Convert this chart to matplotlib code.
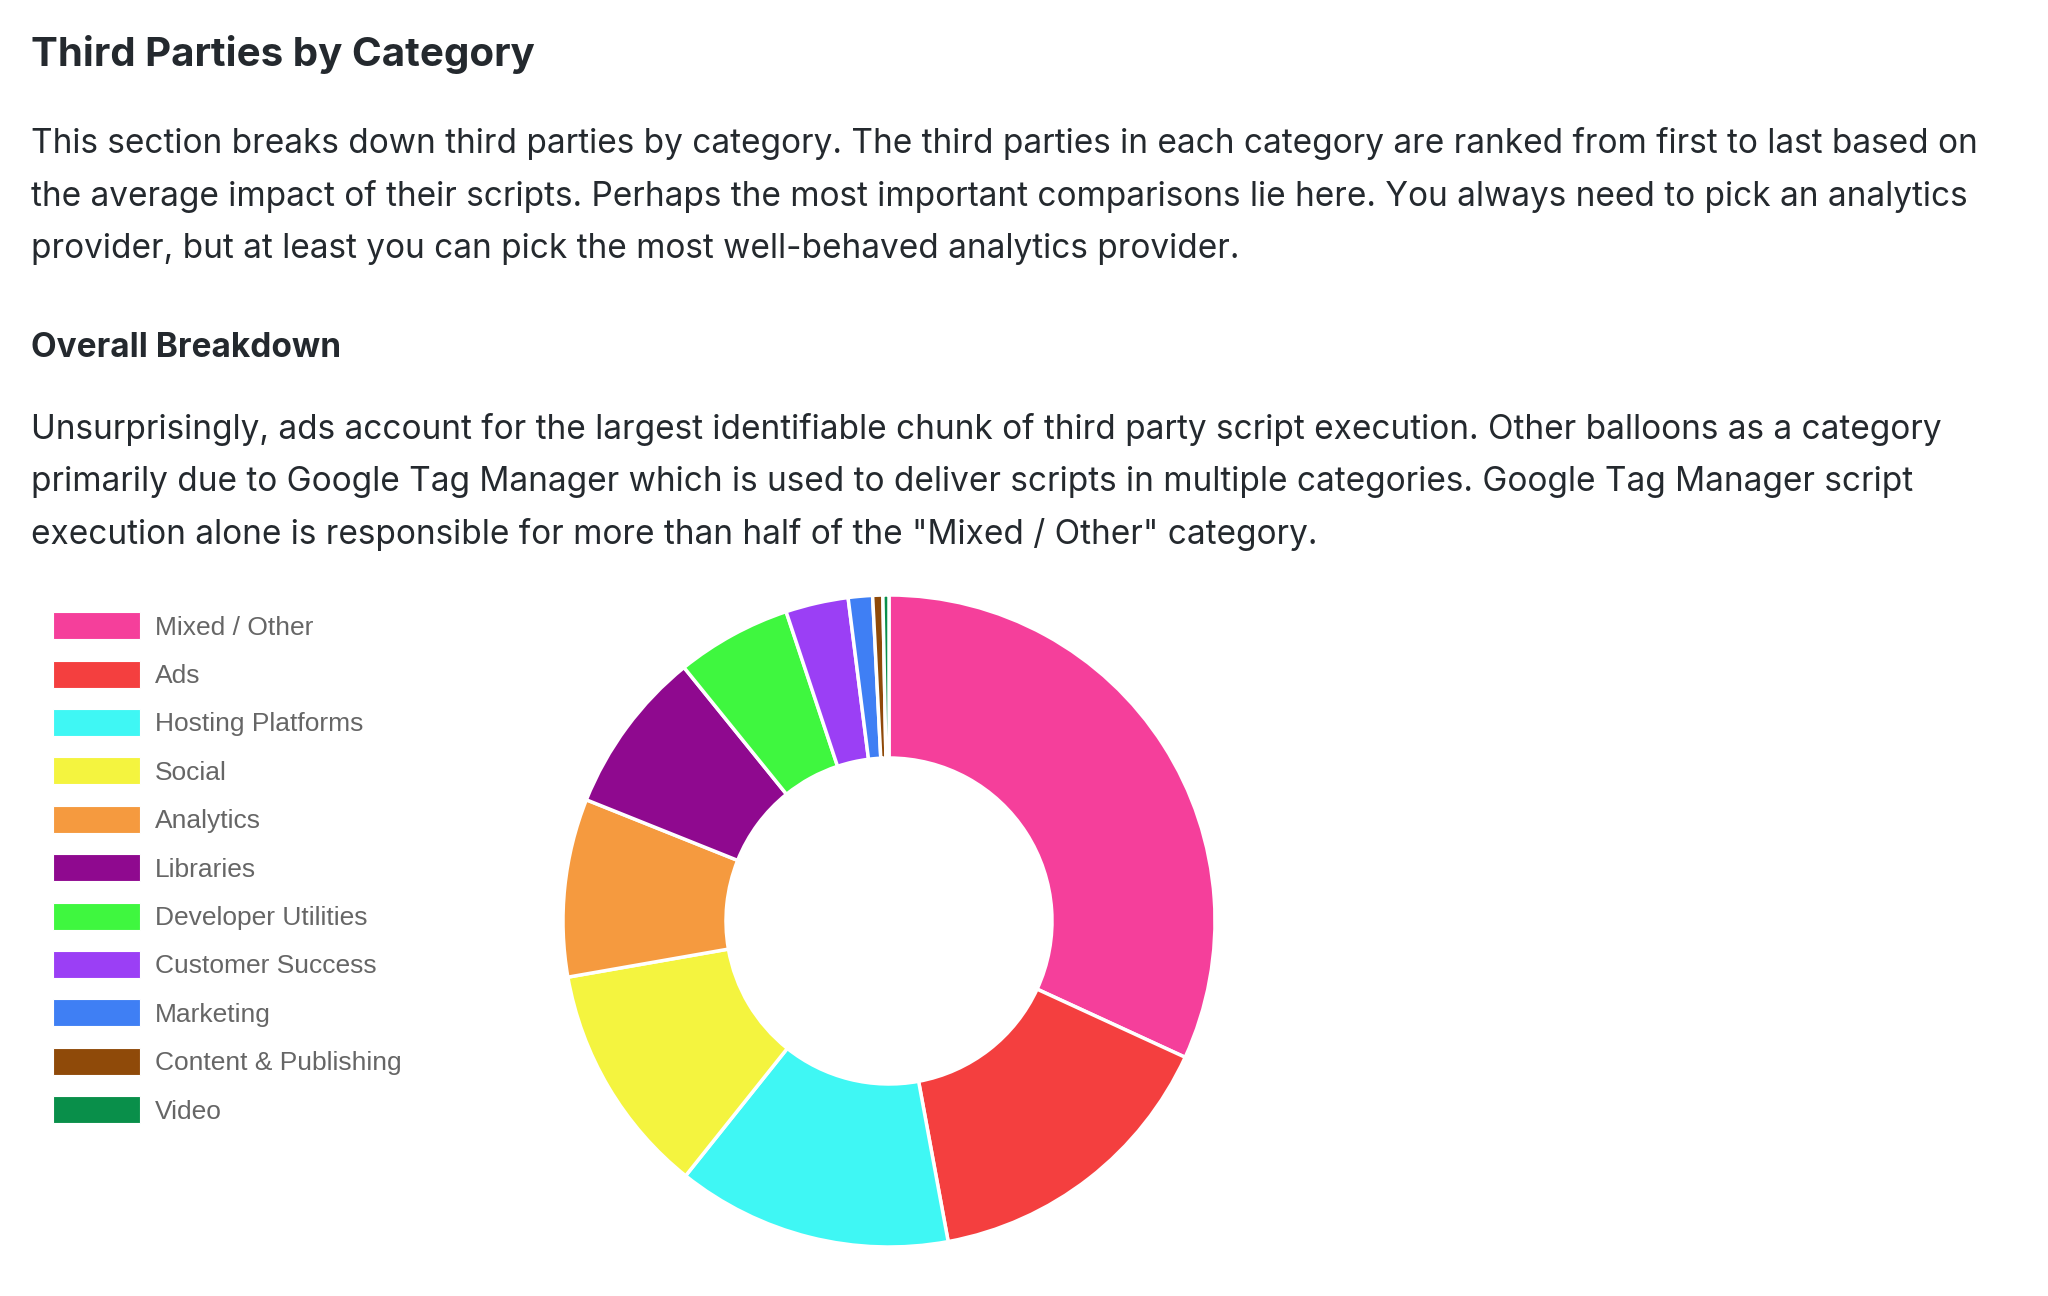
import matplotlib.pyplot as plt
from matplotlib.patches import Patch

W, H = 2048, 1296

categories = [
    "Mixed / Other", "Ads", "Hosting Platforms", "Social", "Analytics",
    "Libraries", "Developer Utilities", "Customer Success", "Marketing",
    "Content & Publishing", "Video",
]
shares = [31.8, 15.2, 13.6, 11.5, 8.8, 8.1, 5.7, 3.1, 1.2, 0.5, 0.3]
colors = [
    "#f53f9b", "#f43f3f", "#3ff7f4", "#f4f43f", "#f59a3f",
    "#8f098f", "#3ff73f", "#9b3ff5", "#3f7ff4", "#8f4a09", "#098f4a",
]

page_title = "Third Parties by Category"
intro_lines = [
    "This section breaks down third parties by category. The third parties in each category are ranked from first to last based on",
    "the average impact of their scripts. Perhaps the most important comparisons lie here. You always need to pick an analytics",
    "provider, but at least you can pick the most well-behaved analytics provider.",
]
sub_title = "Overall Breakdown"
breakdown_lines = [
    "Unsurprisingly, ads account for the largest identifiable chunk of third party script execution. Other balloons as a category",
    "primarily due to Google Tag Manager which is used to deliver scripts in multiple categories. Google Tag Manager script",
    "execution alone is responsible for more than half of the \"Mixed / Other\" category.",
]

TEXT_COLOR = "#24292e"
BODY_FONT = ["Inter", "DejaVu Sans"]
BODY_SIZE = 24


def px(x, y):
    return x / W, 1 - y / H


fig = plt.figure(figsize=(W / 100, H / 100), dpi=100)
fig.patch.set_facecolor("white")

fig.text(*px(31, 55), page_title, fontsize=29, fontweight="bold",
         color=TEXT_COLOR, family=BODY_FONT, va="center", ha="left")
for i, line in enumerate(intro_lines):
    fig.text(*px(31, 144 + i * 52.3), line, fontsize=BODY_SIZE,
             color=TEXT_COLOR, family=BODY_FONT, va="center", ha="left")
fig.text(*px(31, 348), sub_title, fontsize=BODY_SIZE, fontweight="bold",
         color=TEXT_COLOR, family=BODY_FONT, va="center", ha="left")
for i, line in enumerate(breakdown_lines):
    fig.text(*px(31, 430 + i * 52.3), line, fontsize=BODY_SIZE,
             color=TEXT_COLOR, family=BODY_FONT, va="center", ha="left")

# donut
cx, cy, r = 889, 921, 326
ax = fig.add_axes([(cx - r) / W, 1 - (cy + r) / H, 2 * r / W, 2 * r / H])
ax.pie(
    shares,
    colors=colors,
    startangle=90,
    counterclock=False,
    radius=1.0,
    wedgeprops=dict(width=0.5, edgecolor="white", linewidth=2.5),
)
ax.set_xlim(-1.0, 1.0)
ax.set_ylim(-1.0, 1.0)
ax.set_aspect("equal")
ax.axis("off")

# legend
handles = [Patch(facecolor=c, edgecolor="white", linewidth=0.8) for c in colors]
leg = fig.legend(
    handles,
    categories,
    loc="upper left",
    bbox_to_anchor=px(32, 591),
    frameon=False,
    handlelength=3.3,
    handleheight=1.2,
    handletextpad=0.55,
    labelspacing=0.795,
    borderpad=0.3,
    prop={"family": ["Liberation Sans", "DejaVu Sans"], "size": 19},
)
for t in leg.get_texts():
    t.set_color("#666666")

fig.savefig("out.png", dpi=100, facecolor="white")
